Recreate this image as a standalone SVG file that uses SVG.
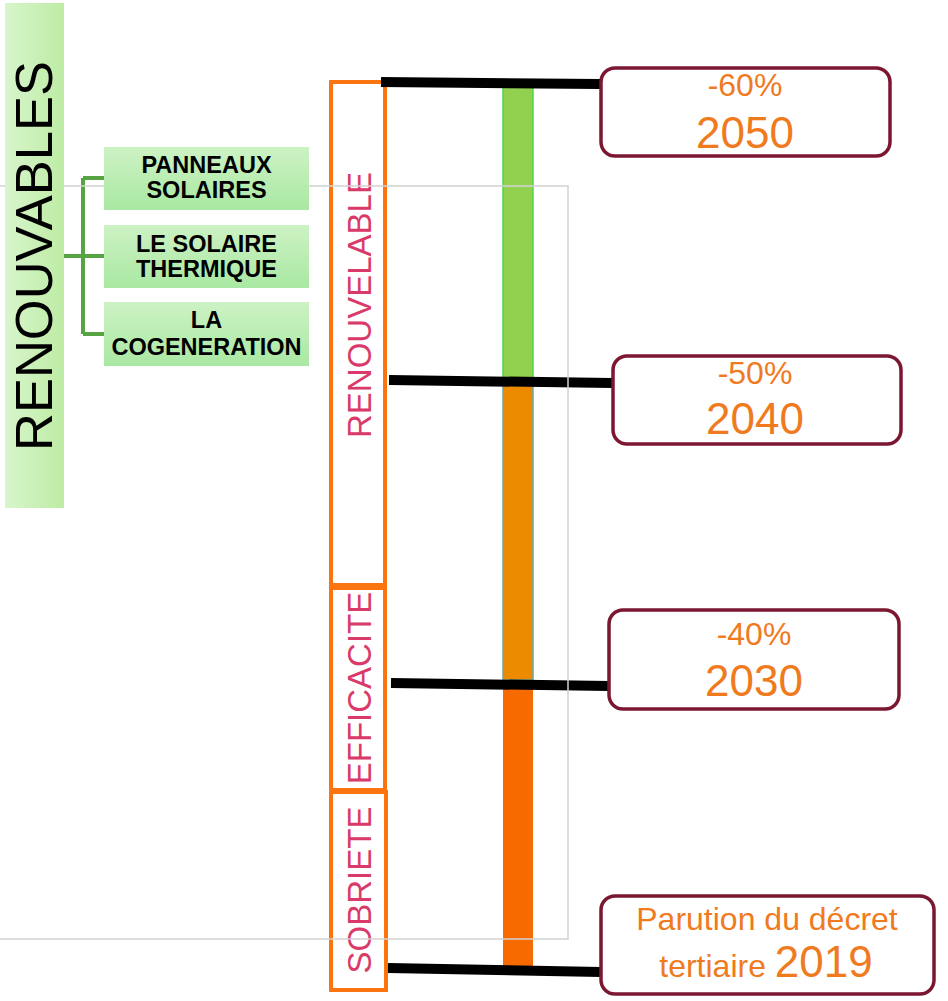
<svg xmlns="http://www.w3.org/2000/svg" width="948" height="1001" viewBox="0 0 948 1001">
<defs>
<linearGradient id="gBig" x1="0" y1="0" x2="1" y2="0"><stop offset="0" stop-color="#d8f5cc"/><stop offset="1" stop-color="#bdeca4"/></linearGradient>
<linearGradient id="gSmall" x1="0" y1="0" x2="0" y2="1"><stop offset="0" stop-color="#cdf2c4"/><stop offset="1" stop-color="#a9e8a2"/></linearGradient>
<style>
.ob{fill:#fff;stroke:#fa7410;stroke-width:4}
.ot{font-family:"Liberation Sans",Arial,sans-serif;font-size:33px;fill:#d93a6a;text-anchor:middle}
.sb{fill:url(#gSmall)}
.st{font-family:"Liberation Sans",Arial,sans-serif;font-size:23.5px;font-weight:bold;fill:#000;text-anchor:middle}
.rb{fill:#fff;stroke:#7b1730;stroke-width:3.5}
.pt{font-family:"Liberation Sans",Arial,sans-serif;font-size:32px;fill:#f07a1e;text-anchor:middle}
.yt{font-family:"Liberation Sans",Arial,sans-serif;font-size:44px;fill:#f07a1e;text-anchor:middle}
.bl{stroke:#000;stroke-width:10;fill:none}
.gc{stroke:#56a444;stroke-width:4;fill:none}
</style>
</defs>
<rect width="948" height="1001" fill="#fff"/>

<g id="renouvelable"><rect class="ob" x="331" y="82" width="54" height="503"/><text class="ot" transform="translate(371,305) rotate(-90)">RENOUVELABLE</text></g>
<g id="efficacite"><rect class="ob" x="331" y="588" width="54" height="202"/><text class="ot" transform="translate(371,688) rotate(-90)">EFFICACITE</text></g>
<g id="sobriete"><rect class="ob" x="331" y="792" width="55" height="198"/><text class="ot" transform="translate(371,890) rotate(-90)">SOBRIETE</text></g>

<g id="bar">
<rect x="503" y="86" width="30" height="294" fill="#92d050" stroke="#4fd64f" stroke-width="1.5"/>
<rect x="503" y="384" width="30" height="296" fill="#ec8a00" stroke="#6aa6a6" stroke-width="1.5"/>
<rect x="503" y="688" width="30" height="282" fill="#f66a00"/>
</g>

<g id="connectors">
<path class="bl" d="M381 82 L600 84"/>
<path class="bl" d="M389 380 L612 383"/>
<path class="bl" d="M391 683 L609 686"/>
<path class="bl" d="M388 968 L601 972"/>
<path class="gc" d="M64 256 H104 M83 178 V334 M83 178 H104 M83 334 H104"/>
</g>

<g id="t2050"><rect class="rb" x="601" y="68" width="289" height="88" rx="14"/><text class="pt" x="745" y="96">-60%</text><text class="yt" x="745" y="148">2050</text></g>
<g id="t2040"><rect class="rb" x="613" y="356" width="288" height="88" rx="14"/><text class="pt" x="755" y="384">-50%</text><text class="yt" x="755" y="434">2040</text></g>
<g id="t2030"><rect class="rb" x="609" y="610" width="290" height="99" rx="14"/><text class="pt" x="754" y="645">-40%</text><text class="yt" x="754" y="696">2030</text></g>
<g id="t2019"><rect class="rb" x="601" y="896" width="333" height="98" rx="14"/><text class="pt" x="767" y="930">Parution du décret</text><text class="pt" x="766" y="977"><tspan>tertiaire </tspan><tspan font-size="44">2019</tspan></text></g>

<rect id="frame" x="-2" y="186" width="570" height="753" fill="none" stroke="#d2d2d2" stroke-width="1.5"/>

<g id="renouvables"><rect x="5" y="3" width="59" height="505" fill="url(#gBig)"/><text transform="translate(52,256) rotate(-90)" font-family="Liberation Sans, Arial, sans-serif" font-size="52.5" fill="#000" text-anchor="middle">RENOUVABLES</text></g>
<g id="panneaux"><rect class="sb" x="104" y="147" width="205" height="63"/><text class="st" x="206.5" y="173">PANNEAUX</text><text class="st" x="206.5" y="198">SOLAIRES</text></g>
<g id="thermique"><rect class="sb" x="104" y="225" width="205" height="63"/><text class="st" x="206.5" y="252">LE SOLAIRE</text><text class="st" x="206.5" y="277">THERMIQUE</text></g>
<g id="cogeneration"><rect class="sb" x="104" y="302" width="205" height="64"/><text class="st" x="206.5" y="328">LA</text><text class="st" x="206.5" y="355">COGENERATION</text></g>
</svg>
